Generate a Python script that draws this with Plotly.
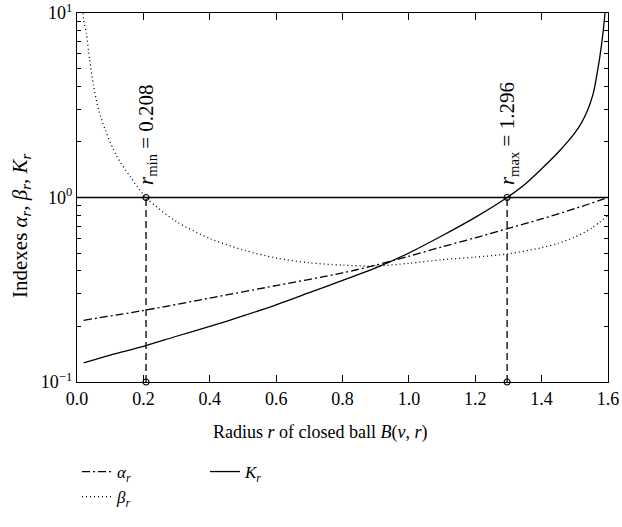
import plotly.graph_objects as go
import math

# ---- data ----
r_alpha = [0.02, 0.2, 0.4, 0.6, 0.8, 0.9, 1.0, 1.1, 1.2, 1.3, 1.4, 1.5, 1.6]
alpha = [0.216, 0.244, 0.285, 0.333, 0.39, 0.43, 0.48, 0.54, 0.605, 0.68, 0.765, 0.87, 1.0]

r_beta = [0.018, 0.02, 0.028, 0.038, 0.05, 0.065, 0.085, 0.12, 0.16, 0.208, 0.3, 0.4, 0.5,
          0.6, 0.7, 0.8, 0.9, 1.0, 1.1, 1.2, 1.3, 1.4, 1.45, 1.5, 1.55, 1.6]
beta = [10.5, 9.2, 7.8, 5.6, 4.0, 3.0, 2.33, 1.67, 1.3, 1.0, 0.74, 0.6, 0.52,
        0.47, 0.443, 0.43, 0.425, 0.44, 0.46, 0.475, 0.495, 0.535, 0.565, 0.61, 0.68, 0.80]

r_K = [0.02, 0.1, 0.2, 0.3, 0.4, 0.5, 0.6, 0.7, 0.8, 0.9, 1.0, 1.1, 1.2, 1.296, 1.35,
       1.4, 1.45, 1.48, 1.5, 1.52, 1.54, 1.555, 1.568, 1.58, 1.59, 1.597]
K = [0.127, 0.14, 0.156, 0.177, 0.2, 0.228, 0.262, 0.305, 0.355, 0.415, 0.50, 0.62, 0.78,
     1.0, 1.18, 1.43, 1.76, 2.02, 2.24, 2.54, 3.02, 3.63, 4.79, 6.61, 9.55, 14.1]

r_marks = [0.208, 1.296]
mark_labels = ["<i>r</i><sub>min</sub> = 0.208", "<i>r</i><sub>max</sub> = 1.296"]
ref_level = 1.0
y_bottom = 0.1

x_ticks = [0.0, 0.2, 0.4, 0.6, 0.8, 1.0, 1.2, 1.4, 1.6]
x_ticktext = ["0.0", "0.2", "0.4", "0.6", "0.8", "1.0", "1.2", "1.4", "1.6"]
y_ticks = [0.1, 1, 10]
y_ticktext = ["10<sup>\u22121</sup>", "10<sup>0</sup>", "10<sup>1</sup>"]
y_minor = [0.2, 0.3, 0.4, 0.5, 0.6, 0.7, 0.8, 0.9, 2, 3, 4, 5, 6, 7, 8, 9]

FONT = "Liberation Serif"
LW = 1.3

fig = go.Figure()

# reference line at 1
fig.add_trace(go.Scatter(x=[0.0, 1.6], y=[ref_level, ref_level], mode="lines",
                         line=dict(color="black", width=LW), showlegend=False,
                         hoverinfo="skip"))
# vertical dashed markers
for rm in r_marks:
    fig.add_trace(go.Scatter(x=[rm, rm], y=[y_bottom, ref_level], mode="lines",
                             line=dict(color="black", width=LW, dash="7px,4px"),
                             showlegend=False, hoverinfo="skip"))

fig.add_trace(go.Scatter(x=r_alpha, y=alpha, mode="lines", line_shape="spline",
                         line_smoothing=0.8,
                         name="<i>α<sub>r</sub></i>",
                         line=dict(color="black", width=LW, dash="8px,3px,2px,3px"),
                         legend="legend"))
fig.add_trace(go.Scatter(x=r_beta, y=beta, mode="lines", line_shape="spline",
                         line_smoothing=0.8,
                         name="<i>β<sub>r</sub></i>",
                         line=dict(color="black", width=LW, dash="1px,3px"),
                         legend="legend"))
fig.add_trace(go.Scatter(x=r_K, y=K, mode="lines", line_shape="spline",
                         line_smoothing=0.8,
                         name="<i>K<sub>r</sub></i>",
                         line=dict(color="black", width=LW),
                         legend="legend2"))

# circle markers
fig.add_trace(go.Scatter(x=r_marks + r_marks, y=[ref_level] * 2 + [y_bottom] * 2,
                         mode="markers", cliponaxis=False,
                         marker=dict(symbol="circle-open", size=6, color="black",
                                     line=dict(width=1.2)),
                         showlegend=False, hoverinfo="skip"))

for rm, lab in zip(r_marks, mark_labels):
    fig.add_annotation(x=rm, y=math.log10(ref_level), xref="x", yref="y",
                       text=lab, textangle=-90, showarrow=False,
                       xanchor="center", yanchor="bottom", yshift=10, xshift=1,
                       font=dict(family=FONT, size=21, color="black"))

W, H = 622, 527
ml, mr, mt, mb = 77, 14, 13, 145
pw, ph = W - ml - mr, H - mt - mb

def px_to_paper_x(px):
    return (px - ml) / pw

def py_to_paper_y(py):
    return (H - mb - py) / ph

fig.add_annotation(x=px_to_paper_x(320), y=py_to_paper_y(432), xref="paper", yref="paper",
                   text="Radius <i>r</i> of closed ball <i>B</i>(<i>v</i>, <i>r</i>)",
                   showarrow=False, xanchor="center", yanchor="middle",
                   font=dict(family=FONT, size=18, color="black"))
fig.add_annotation(x=px_to_paper_x(21), y=py_to_paper_y(226), xref="paper", yref="paper",
                   text="Indexes <i>α<sub>r</sub></i>, <i>β<sub>r</sub></i>, <i>K<sub>r</sub></i>",
                   textangle=-90, showarrow=False, xanchor="center", yanchor="middle",
                   font=dict(family=FONT, size=21, color="black"))

axis_common = dict(showgrid=False, zeroline=False, showline=True, linecolor="black",
                   linewidth=1.3, mirror="ticks", ticks="inside", ticklen=7,
                   tickwidth=1.2, tickcolor="black", automargin=False,
                   tickfont=dict(family=FONT, size=18, color="black"))

fig.update_xaxes(range=[0, 1.6], tickmode="array", tickvals=x_ticks, ticktext=x_ticktext,
                 **axis_common)
fig.update_yaxes(type="log", range=[-1, 1], tickmode="array", tickvals=y_ticks,
                 ticktext=y_ticktext,
                 minor=dict(tickmode="array", tickvals=y_minor, ticks="inside", ticklen=4,
                            tickwidth=1, tickcolor="black"),
                 **axis_common)

legend_common = dict(font=dict(family=FONT, size=17, color="black"),
                     bgcolor="rgba(0,0,0,0)", orientation="v",
                     xanchor="left", yanchor="top", tracegroupgap=0,
                     itemwidth=30)
fig.update_layout(
    width=W, height=H,
    margin=dict(l=ml, r=mr, t=mt, b=mb, autoexpand=False),
    plot_bgcolor="white", paper_bgcolor="white",
    legend=dict(x=px_to_paper_x(77), y=py_to_paper_y(454), **legend_common),
    legend2=dict(x=px_to_paper_x(205), y=py_to_paper_y(454), **legend_common),
    showlegend=True,
)

fig.write_html("out.html", config={"displayModeBar": False},
               post_script="document.body.style.margin='0';")
